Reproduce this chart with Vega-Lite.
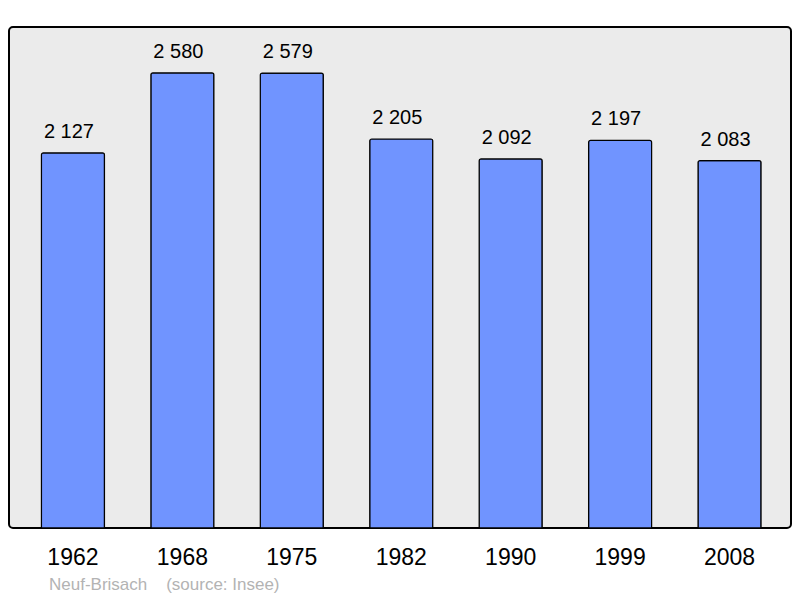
{
  "$schema": "https://vega.github.io/schema/vega-lite/v6.json",
  "width": 782,
  "height": 501,
  "autosize": {"type": "none"},
  "padding": {"left": 9, "top": 27, "right": 9, "bottom": 70},
  "background": "white",
  "data": {"values": [
    {"year": "1962", "pop": 2127},
    {"year": "1968", "pop": 2580},
    {"year": "1975", "pop": 2579},
    {"year": "1982", "pop": 2205},
    {"year": "1990", "pop": 2092},
    {"year": "1999", "pop": 2197},
    {"year": "2008", "pop": 2083}
  ]},
  "title": {
    "text": "Neuf-Brisach\u00a0\u00a0\u00a0\u00a0(source: Insee)",
    "orient": "bottom",
    "anchor": "start",
    "frame": "group",
    "dx": 40,
    "offset": 8,
    "font": "Liberation Sans",
    "fontSize": 17,
    "fontWeight": "normal",
    "color": "#b3b3b3"
  },
  "encoding": {
    "x": {
      "field": "year", "type": "nominal", "sort": null,
      "scale": {"paddingInner": 0.424, "paddingOuter": 0.285, "align": 0.52},
      "axis": {"title": null, "labelAngle": 0, "domain": false, "ticks": false,
               "labelFont": "Liberation Sans", "labelFontSize": 23, "labelColor": "#000",
               "labelPadding": 18}
    },
    "y": {
      "field": "pop", "type": "quantitative",
      "scale": {"domain": [0, 2840], "nice": false, "zero": true},
      "axis": null
    }
  },
  "layer": [
    {
      "mark": {"type": "bar", "fill": "#7094ff", "stroke": "#000", "strokeWidth": 1.2, "cornerRadiusTopLeft": 2, "cornerRadiusTopRight": 2}
    },
    {
      "mark": {"type": "text", "baseline": "alphabetic", "dx": -4, "dy": -15, "font": "Liberation Sans", "fontSize": 20, "color": "#000"},
      "encoding": {"text": {"field": "pop", "type": "quantitative", "format": ",d"}}
    }
  ],
  "config": {
    "locale": {"number": {"decimal": ",", "thousands": " ", "grouping": [3], "currency": ["", " €"]}},
    "view": {"stroke": "#000", "strokeWidth": 2, "fill": "#ebebeb", "cornerRadius": 4}
  }
}
